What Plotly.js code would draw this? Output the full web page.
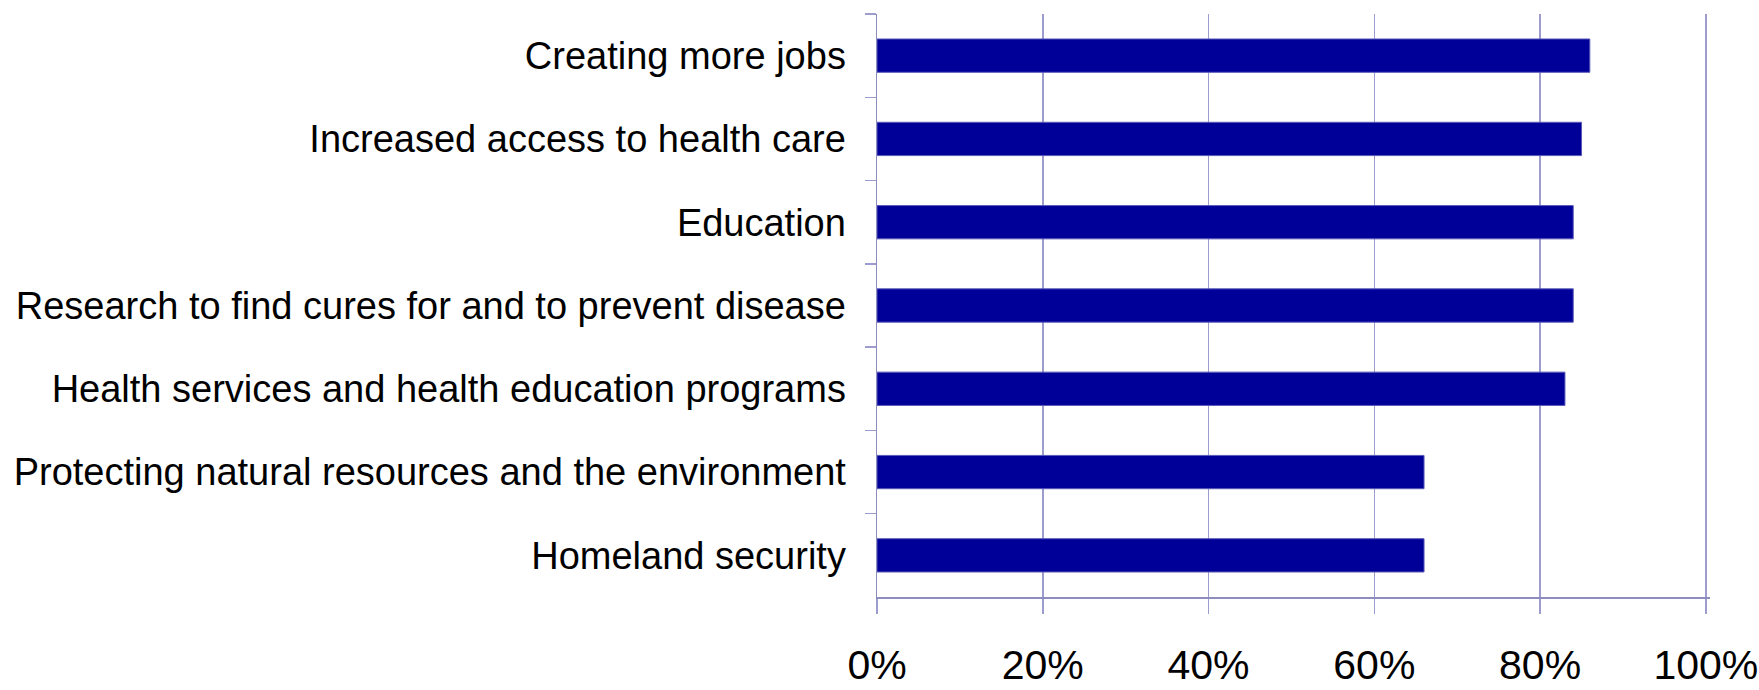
<!DOCTYPE html>
<html>
<head>
<meta charset="utf-8">
<script src="https://cdn.plot.ly/plotly-3.0.1.min.js"></script>
<style>
html,body{margin:0;padding:0;background:#fff;}
#chart{width:1759px;height:690px;}
</style>
</head>
<body>
<div id="chart"></div>
<script>
const categories = [
  "Creating more jobs",
  "Increased access to health care",
  "Education",
  "Research to find cures for and to prevent disease",
  "Health services and health education programs",
  "Protecting natural resources and the environment",
  "Homeland security"
];
const values = [86, 85, 84, 84, 83, 66, 66];
const xTickValues = [0, 20, 40, 60, 80, 100];
const xTickLabels = ["0%", "20%", "40%", "60%", "80%", "100%"];

const gridColor = "#9C9CCF";
const lineColor = "#8C8CBF";

const trace = {
  type: "bar",
  orientation: "h",
  x: values,
  y: categories,
  width: 0.4,
  marker: { color: "#000099", line: { color: "#5A5AB8", width: 1 } },
  hoverinfo: "x+y"
};

const layout = {
  width: 1759,
  height: 690,
  margin: { l: 877, r: 49, t: 14, b: 93, pad: 0 },
  paper_bgcolor: "#ffffff",
  plot_bgcolor: "#ffffff",
  showlegend: false,
  xaxis: {
    range: [0, 100.5],
    tickvals: xTickValues,
    ticktext: xTickLabels,
    showgrid: true,
    gridcolor: gridColor,
    gridwidth: 1.5,
    zeroline: false,
    showline: true,
    linecolor: lineColor,
    linewidth: 1.5,
    ticks: "outside",
    ticklen: 15,
    tickwidth: 1.5,
    tickcolor: gridColor,
    ticklabelstandoff: 16,
    ticklabeloverflow: "allow",
    tickfont: { family: "Liberation Sans, Arial, sans-serif", size: 41, color: "#000000" },
    fixedrange: true
  },
  yaxis: {
    type: "category",
    autorange: "reversed",
    showgrid: false,
    zeroline: false,
    showline: true,
    linecolor: lineColor,
    linewidth: 1.5,
    ticks: "outside",
    tickson: "boundaries",
    ticklen: 11,
    tickwidth: 1.5,
    tickcolor: gridColor,
    ticklabelstandoff: 22,
    tickfont: { family: "Liberation Sans, Arial, sans-serif", size: 38, color: "#000000" },
    fixedrange: true
  },
  bargap: 0.6
};

Plotly.newPlot("chart", [trace], layout, { displayModeBar: false, staticPlot: true });
</script>
</body>
</html>
